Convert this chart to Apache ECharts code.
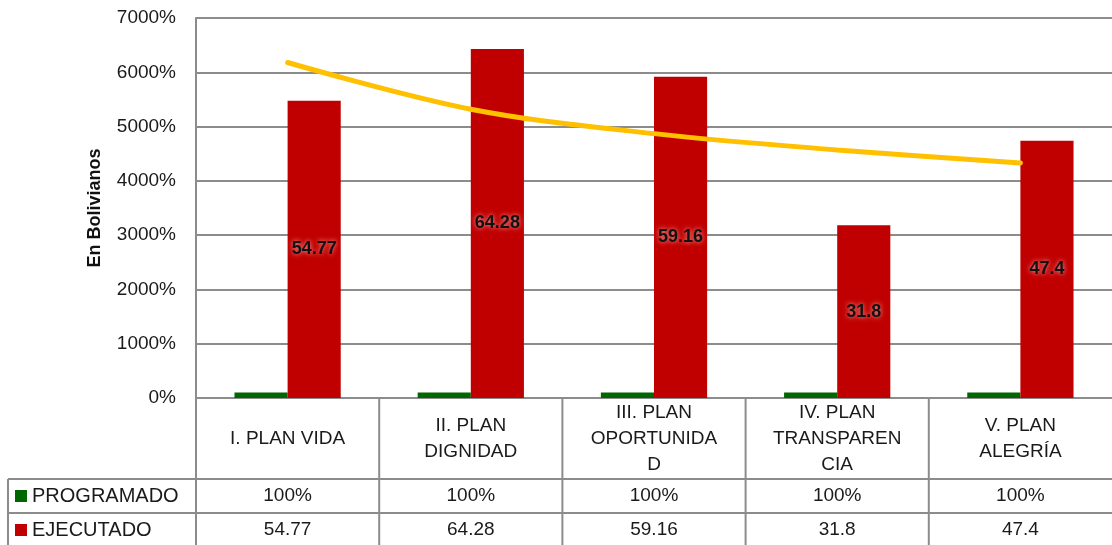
<!DOCTYPE html>
<html>
<head>
<meta charset="utf-8">
<script src="https://cdn.jsdelivr.net/npm/echarts@6/dist/echarts.min.js"></script>
<style>
  html, body { margin: 0; padding: 0; background: #fff; }
  #chart { width: 1112px; height: 545px; }
</style>
</head>
<body>
<div id="chart"></div>
<script>
// Plan categories, shown in the header row of the data table
const categories = [
  'I. PLAN VIDA',
  'II. PLAN\nDIGNIDAD',
  'III. PLAN\nOPORTUNIDA\nD',
  'IV. PLAN\nTRANSPAREN\nCIA',
  'V. PLAN\nALEGRÍA'
];
// Programmed execution (1 = 100%)
const programado = [1, 1, 1, 1, 1];
// Executed values
const ejecutado = [54.77, 64.28, 59.16, 31.8, 47.4];
// Trend curve over the executed values
const tendencia = [61.8, 53.2, 48.7, 45.7, 43.3];
// Value axis ticks
const yMin = 0, yMax = 70, yStep = 10;

const FONT = '"Liberation Sans", Arial, sans-serif';
const GRID_LEFT = 196, GRID_TOP = 18, AXIS_Y = 398;
const ROW1 = 479, ROW2 = 513, CHART_W = 1112, CHART_H = 545;
const LINE = '#8c8c8c';

const chart = echarts.init(document.getElementById('chart'));

const pct = v => Math.round(v * 100) + '%';

// table border lines (layout only)
const colW = (CHART_W - GRID_LEFT) / categories.length;
const borders = [];
for (let i = 0; i < categories.length; i++) {
  const x = GRID_LEFT + i * colW;
  borders.push({ type: 'line', shape: { x1: x, y1: AXIS_Y, x2: x, y2: CHART_H },
    style: { stroke: LINE, lineWidth: 2 }, z: 10 });
}
borders.push({ type: 'line', shape: { x1: 8, y1: ROW1, x2: CHART_W, y2: ROW1 },
  style: { stroke: LINE, lineWidth: 2 }, z: 10 });
borders.push({ type: 'line', shape: { x1: 8, y1: ROW2, x2: CHART_W, y2: ROW2 },
  style: { stroke: LINE, lineWidth: 2 }, z: 10 });
borders.push({ type: 'line', shape: { x1: 8, y1: ROW1, x2: 8, y2: CHART_H },
  style: { stroke: LINE, lineWidth: 2 }, z: 10 });

const rowAxis = (values, fmt, centerY) => ({
  type: 'category',
  position: 'bottom',
  data: categories,
  offset: centerY - AXIS_Y,
  axisLine: { show: false },
  axisTick: { show: false },
  splitLine: { show: false },
  axisLabel: {
    interval: 0, margin: 0, verticalAlign: 'middle',
    fontFamily: FONT, fontSize: 19, color: '#1a1a1a',
    formatter: (v, i) => fmt(values[i])
  }
});

chart.setOption({
  animation: false,
  backgroundColor: '#fff',
  grid: { left: GRID_LEFT, right: 0, top: GRID_TOP, bottom: CHART_H - AXIS_Y },
  legend: {
    data: ['PROGRAMADO', 'EJECUTADO'],
    orient: 'vertical',
    left: 15, top: 486,
    padding: 0,
    itemWidth: 12, itemHeight: 12, itemGap: 14,
    icon: 'rect',
    textStyle: { fontFamily: FONT, fontSize: 20, color: '#1a1a1a', lineHeight: 20 },
    selectedMode: false
  },
  xAxis: [
    {
      type: 'category',
      data: categories,
      axisLine: { lineStyle: { color: LINE, width: 2 } },
      axisTick: { show: false },
      axisLabel: {
        interval: 0, margin: (ROW1 - AXIS_Y) / 2, verticalAlign: 'middle',
        fontFamily: FONT, fontSize: 19, lineHeight: 26, color: '#1a1a1a', align: 'center'
      }
    },
    rowAxis(programado, pct, (ROW1 + ROW2) / 2),
    rowAxis(ejecutado, v => String(v), ROW2 + 17)
  ],
  yAxis: {
    type: 'value',
    min: yMin, max: yMax, interval: yStep,
    name: 'En Bolivianos',
    nameLocation: 'middle',
    nameGap: 92,
    nameRotate: 90,
    nameTextStyle: { fontFamily: FONT, fontSize: 18, fontWeight: 'bold', color: '#111' },
    axisLine: { show: true, lineStyle: { color: LINE, width: 2 } },
    axisTick: { show: false },
    splitLine: { lineStyle: { color: LINE, width: 2 } },
    axisLabel: {
      margin: 20, fontFamily: FONT, fontSize: 19, color: '#1a1a1a',
      formatter: v => pct(v)
    }
  },
  series: [
    {
      name: 'PROGRAMADO',
      type: 'bar',
      data: programado,
      barGap: '0%',
      barCategoryGap: '42%',
      itemStyle: { color: '#006600' }
    },
    {
      name: 'EJECUTADO',
      type: 'bar',
      data: ejecutado,
      itemStyle: { color: '#C00000' },
      label: {
        show: true, position: 'inside',
        formatter: '{c}',
        fontFamily: FONT, fontSize: 18, fontWeight: 'bold', color: '#111',
        textShadowColor: 'rgba(255,160,160,1)', textShadowBlur: 5
      }
    },
    {
      name: 'Tendencia',
      type: 'line',
      data: tendencia,
      smooth: 0.35,
      symbol: 'none',
      z: 5,
      lineStyle: { color: '#FFC000', width: 5, cap: 'round' }
    }
  ],
  graphic: borders
});
</script>
</body>
</html>
